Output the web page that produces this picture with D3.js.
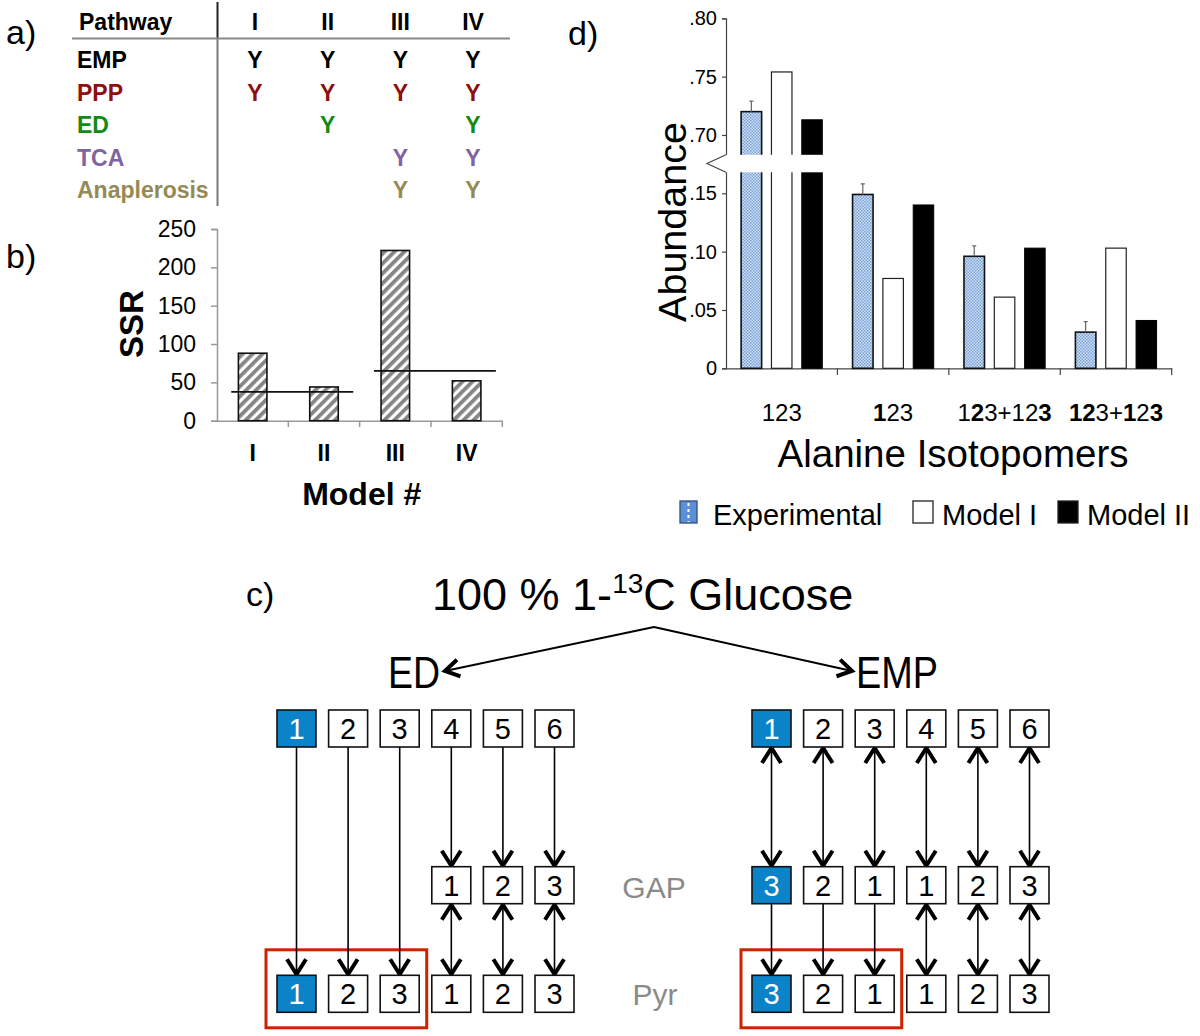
<!DOCTYPE html>
<html>
<head>
<meta charset="utf-8">
<script src="https://cdn.jsdelivr.net/npm/d3@7"></script>
<style>
  body { margin: 0; background: #fff; }
  svg { display: block; font-family: "Liberation Sans", Arial, sans-serif; }
</style>
</head>
<body>
<script>
// ---- a) which pathways each model contains
const pathways = ["EMP", "PPP", "ED", "TCA", "Anaplerosis"];
const models = ["I", "II", "III", "IV"];
const included = [
  [1, 1, 1, 1],
  [1, 1, 1, 1],
  [0, 1, 0, 1],
  [0, 0, 1, 1],
  [0, 0, 1, 1]
];

// ---- b) SSR per model
const ssr = [88, 44, 222, 52];
const ssrTicks = [0, 50, 100, 150, 200, 250];
const ssrLimits = [
  { from: "I", to: "II", value: 37.5 },
  { from: "III", to: "IV", value: 65 }
];

// ---- d) alanine isotopomers (pieces: [text, bold])
const isotopomers = [
  [["123", 0]],
  [["1", 1], ["23", 0]],
  [["1", 0], ["2", 1], ["3+12", 0], ["3", 1]],
  [["12", 1], ["3+", 0], ["1", 1], ["2", 0], ["3", 1]]
];
const seriesNames = ["Experimental", "Model I", "Model II"];
const experimental = [0.720, 0.149, 0.096, 0.031];
const experimentalErr = [0.009, 0.009, 0.009, 0.009];
const modelI = [0.754, 0.077, 0.061, 0.103];
const modelII = [0.713, 0.140, 0.103, 0.041];
const abundanceTicks = [0, 0.05, 0.10, 0.15, 0.70, 0.75, 0.80];
const axisBreak = [0.168, 0.683];

// ---- c) carbon mapping 1-13C glucose -> GAP -> pyruvate
const glucoseCarbons = ["1", "2", "3", "4", "5", "6"];
const tracer = "1";
const edGAP = [null, null, null, "1", "2", "3"];
const edPyr = ["1", "2", "3", "1", "2", "3"];
const empGAP = ["3", "2", "1", "1", "2", "3"];
const empPyr = ["3", "2", "1", "1", "2", "3"];
const edArrows = [
  { from: "top", to: "pyr", cols: [0, 1, 2], both: false },
  { from: "top", to: "gap", cols: [3, 4, 5], both: false },
  { from: "gap", to: "pyr", cols: [3, 4, 5], both: true }
];
const empArrows = [
  { from: "top", to: "gap", cols: [0, 1, 2, 3, 4, 5], both: true },
  { from: "gap", to: "pyr", cols: [0, 1, 2], both: false },
  { from: "gap", to: "pyr", cols: [3, 4, 5], both: true }
];

const pathwayColors = ["#000000", "#8e0f0f", "#138a13", "#8064a2", "#948a54"];

const svg = d3.select("body").append("svg")
  .attr("width", 1200).attr("height", 1036);

const defs = svg.append("defs");
const hatch = defs.append("pattern").attr("id", "hatch")
  .attr("patternUnits", "userSpaceOnUse").attr("width", 7).attr("height", 7)
  .attr("patternTransform", "rotate(45)");
hatch.append("rect").attr("width", 7).attr("height", 7).attr("fill", "#fff");
hatch.append("rect").attr("width", 3.8).attr("height", 7).attr("fill", "#858585");

const dots = defs.append("pattern").attr("id", "dots")
  .attr("patternUnits", "userSpaceOnUse").attr("width", 3).attr("height", 3);
dots.append("rect").attr("width", 3).attr("height", 3).attr("fill", "#d3e0f3");
dots.append("rect").attr("width", 1.5).attr("height", 1.5).attr("fill", "#7aa2da");
dots.append("rect").attr("x", 1.5).attr("y", 1.5).attr("width", 1.5).attr("height", 1.5).attr("fill", "#7aa2da");

// panel letters
svg.selectAll("text.panel")
  .data([["a)", 6, 44], ["b)", 6, 268], ["c)", 246, 606], ["d)", 568, 45]])
  .join("text").attr("class", "panel")
  .attr("x", d => d[1]).attr("y", d => d[2])
  .attr("font-size", 34).text(d => d[0]);

// ================= a) table
const ta = svg.append("g");
const colA = d3.scalePoint().domain(models).range([255, 473]);
const rowA = d3.scaleLinear().domain([0, pathways.length - 1]).range([68.3, 198.3]);

ta.append("line").attr("x1", 217.5).attr("x2", 217.5).attr("y1", 2).attr("y2", 38)
  .attr("stroke", "#222").attr("stroke-width", 2);
ta.append("line").attr("x1", 217.5).attr("x2", 217.5).attr("y1", 38).attr("y2", 206)
  .attr("stroke", "#777").attr("stroke-width", 2);
ta.append("line").attr("x1", 72).attr("x2", 510).attr("y1", 38.5).attr("y2", 38.5)
  .attr("stroke", "#888").attr("stroke-width", 2);

ta.append("text").attr("x", 79).attr("y", 30).attr("font-size", 23)
  .attr("font-weight", "bold").text("Pathway");
ta.selectAll("text.mh").data(models).join("text").attr("class", "mh")
  .attr("x", d => colA(d)).attr("y", 30).attr("text-anchor", "middle")
  .attr("font-size", 23).attr("font-weight", "bold").text(d => d);

ta.selectAll("text.pw").data(pathways).join("text").attr("class", "pw")
  .attr("x", 77).attr("y", (d, i) => rowA(i))
  .attr("font-size", 23).attr("font-weight", "bold")
  .attr("fill", (d, i) => pathwayColors[i]).text(d => d);

const yesCells = [];
included.forEach((row, i) => row.forEach((v, j) => { if (v) yesCells.push({ i, m: models[j] }); }));
ta.selectAll("text.yes").data(yesCells).join("text").attr("class", "yes")
  .attr("x", d => colA(d.m)).attr("y", d => rowA(d.i))
  .attr("text-anchor", "middle").attr("font-size", 23).attr("font-weight", "bold")
  .attr("fill", d => pathwayColors[d.i]).text("Y");

// ================= b) SSR bars
const gb = svg.append("g");
const xb = d3.scaleBand().domain(models).range([217, 502.3]);
const yb = d3.scaleLinear().domain([0, 250]).range([420.7, 229]);
const bwB = xb.bandwidth();

const yAxisB = gb.append("g").attr("transform", "translate(217,0)")
  .call(d3.axisLeft(yb).tickValues(ssrTicks).tickSize(6).tickPadding(15));
yAxisB.selectAll("path, line").attr("stroke", "#999").attr("stroke-width", 1.5);
yAxisB.selectAll("text").attr("font-size", 23).attr("font-family", "Liberation Sans, Arial").attr("fill", "#000");

const xAxisB = gb.append("g").attr("transform", "translate(0,420.7)")
  .call(d3.axisBottom(xb).tickSize(0).tickSizeOuter(0));
xAxisB.select("path").attr("stroke", "#999").attr("stroke-width", 1.5);
xAxisB.selectAll("text").attr("y", 40).attr("dy", null).attr("font-size", 23)
  .attr("font-weight", "bold").attr("font-family", "Liberation Sans, Arial").attr("fill", "#000");
gb.selectAll("line.bt").data(models).join("line").attr("class", "bt")
  .attr("x1", d => xb(d) + bwB).attr("x2", d => xb(d) + bwB)
  .attr("y1", 420.7).attr("y2", 427).attr("stroke", "#999").attr("stroke-width", 1.5);

gb.selectAll("rect.bar").data(ssr).join("rect").attr("class", "bar")
  .attr("x", (d, i) => xb(models[i]) + bwB * 0.3)
  .attr("width", bwB * 0.4)
  .attr("y", d => yb(d)).attr("height", d => yb(0) - yb(d))
  .attr("fill", "url(#hatch)").attr("stroke", "#111").attr("stroke-width", 1.6);

gb.selectAll("line.lim").data(ssrLimits).join("line").attr("class", "lim")
  .attr("x1", d => xb(d.from) + bwB * 0.2).attr("x2", d => xb(d.to) + bwB * 0.91)
  .attr("y1", d => yb(d.value)).attr("y2", d => yb(d.value))
  .attr("stroke", "#111").attr("stroke-width", 1.8);

gb.append("text").attr("transform", "translate(143,324) rotate(-90)")
  .attr("text-anchor", "middle").attr("font-size", 33).attr("font-weight", "bold").text("SSR");
gb.append("text").attr("x", 361.7).attr("y", 505).attr("text-anchor", "middle")
  .attr("font-size", 32).attr("font-weight", "bold").text("Model #");

// ================= d) isotopomer abundance
const gd = svg.append("g");
const fold = v => v >= axisBreak[1] ? v - 0.5 : v;
const xd = d3.scaleBand().domain(d3.range(isotopomers.length)).range([726, 1171.7]);
const bwD = xd.bandwidth();
const xs = d3.scaleBand().domain(seriesNames)
  .range([bwD / 2 - 45.5, bwD / 2 + 45.5]).paddingInner(0.324).paddingOuter(0.162);
const yd = d3.scaleLinear().domain([0, 0.30]).range([368.3, 18.3]);

const yAxisD = gd.append("g").attr("transform", "translate(726,0)")
  .call(d3.axisLeft(yd).tickValues(abundanceTicks.map(fold)).tickSize(4).tickPadding(5)
    .tickFormat((d, i) => abundanceTicks[i] === 0 ? "0" : d3.format(".2f")(abundanceTicks[i]).replace(/^0/, "")));
yAxisD.selectAll("path, line").attr("stroke", "#444").attr("stroke-width", 1.2);
yAxisD.selectAll("text").attr("font-size", 20).attr("font-family", "Liberation Sans, Arial").attr("fill", "#000");

const xAxisD = gd.append("g").attr("transform", "translate(0,368.3)")
  .call(d3.axisBottom(xd).tickSize(0).tickSizeOuter(0).tickFormat(""));
xAxisD.select("path").attr("stroke", "#444").attr("stroke-width", 1.2);
gd.selectAll("line.dt").data(xd.domain()).join("line").attr("class", "dt")
  .attr("x1", d => xd(d) + bwD).attr("x2", d => xd(d) + bwD)
  .attr("y1", 368.3).attr("y2", 375).attr("stroke", "#444").attr("stroke-width", 1.2);

const seriesData = [experimental, modelI, modelII];
const seriesStyle = [
  { fill: "url(#dots)", stroke: "#111", sw: 1.6 },
  { fill: "#fff", stroke: "#222", sw: 1.2 },
  { fill: "#000", stroke: "#000", sw: 1 }
];
const bars = [];
seriesData.forEach((vals, s) => vals.forEach((v, g) => bars.push({ s, g, v })));
gd.selectAll("rect.ab").data(bars).join("rect").attr("class", "ab")
  .attr("x", d => xd(d.g) + xs(seriesNames[d.s]))
  .attr("width", xs.bandwidth())
  .attr("y", d => yd(fold(d.v))).attr("height", d => yd(0) - yd(fold(d.v)))
  .attr("fill", d => seriesStyle[d.s].fill)
  .attr("stroke", d => seriesStyle[d.s].stroke)
  .attr("stroke-width", d => seriesStyle[d.s].sw);

// error bars on experimental
const errX = g => xd(g) + xs("Experimental") + xs.bandwidth() / 2;
gd.selectAll("path.err").data(experimental).join("path").attr("class", "err")
  .attr("d", (v, g) => {
    const x = errX(g), y0 = yd(fold(v)), y1 = yd(fold(v + experimentalErr[g]));
    return `M${x},${y0}V${y1}M${x - 2},${y1}H${x + 2}`;
  })
  .attr("fill", "none").attr("stroke", "#666").attr("stroke-width", 1.2);

// axis break
gd.append("rect").attr("x", 712).attr("width", 462)
  .attr("y", yd(fold(axisBreak[1]))).attr("height", yd(axisBreak[0]) - yd(fold(axisBreak[1])))
  .attr("fill", "#fff");
gd.append("path")
  .attr("d", `M726,${yd(fold(axisBreak[1]))}L707,${(yd(fold(axisBreak[1])) + yd(axisBreak[0])) / 2}L726,${yd(axisBreak[0])}`)
  .attr("fill", "none").attr("stroke", "#444").attr("stroke-width", 1.2);

// category labels with bold carbons
const catLabels = gd.selectAll("text.cat").data(isotopomers).join("text").attr("class", "cat")
  .attr("x", (d, i) => xd(i) + bwD / 2).attr("y", 421)
  .attr("text-anchor", "middle").attr("font-size", 24);
catLabels.selectAll("tspan").data(d => d).join("tspan")
  .attr("font-weight", p => p[1] ? "bold" : "normal").text(p => p[0]);

gd.append("text").attr("x", 953).attr("y", 467).attr("text-anchor", "middle")
  .attr("font-size", 38.5).text("Alanine Isotopomers");
gd.append("text").attr("transform", "translate(686,222) rotate(-90)")
  .attr("text-anchor", "middle").attr("font-size", 39.5).text("Abundance");

// legend
const legendX = [680, 913, 1058];
const leg = gd.selectAll("g.leg").data(seriesNames).join("g").attr("class", "leg")
  .attr("transform", (d, i) => `translate(${legendX[i]},501)`);
leg.append("rect").attr("width", (d, i) => i === 0 ? 17 : 20).attr("height", 22)
  .attr("fill", (d, i) => i === 0 ? "#5c8fd5" : seriesStyle[i].fill)
  .attr("stroke", (d, i) => i === 0 ? "#2c4f80" : "#222").attr("stroke-width", 1.3);
leg.filter((d, i) => i === 0).append("line")
  .attr("x1", 8.5).attr("x2", 8.5).attr("y1", 2).attr("y2", 21)
  .attr("stroke", "#fff").attr("stroke-width", 2).attr("stroke-dasharray", "3,3");
leg.append("text").attr("x", (d, i) => i === 0 ? 33 : 29).attr("y", 23.5)
  .attr("font-size", 29).text(d => d);

// ================= c) carbon transitions
const gc = svg.append("g");
const title = gc.append("text").attr("x", 432).attr("y", 610).attr("font-size", 45);
title.append("tspan").text("100 % 1-");
title.append("tspan").attr("font-size", 28).attr("dy", -17).text("13");
title.append("tspan").attr("dy", 17).text("C Glucose");

gc.append("text").attr("x", 440).attr("y", 688).attr("text-anchor", "end")
  .attr("font-size", 45).attr("textLength", 52).attr("lengthAdjust", "spacingAndGlyphs").text("ED");
gc.append("text").attr("x", 856).attr("y", 688)
  .attr("font-size", 45).attr("textLength", 82).attr("lengthAdjust", "spacingAndGlyphs").text("EMP");

function chevron(x, y, ang, half, depth) {
  // tip at (x,y), pointing along angle ang
  const c = Math.cos(ang), s = Math.sin(ang);
  const bx = x - c * depth, by = y - s * depth;
  return `M${bx - s * half},${by + c * half}L${x},${y}L${bx + s * half},${by - c * half}`;
}

const apex = [654, 627];
const splitTips = [[445, 671], [852, 671]];
splitTips.forEach(t => {
  gc.append("line").attr("x1", apex[0]).attr("y1", apex[1]).attr("x2", t[0]).attr("y2", t[1])
    .attr("stroke", "#000").attr("stroke-width", 2);
  const ang = Math.atan2(t[1] - apex[1], t[0] - apex[0]);
  gc.append("path").attr("d", chevron(t[0], t[1], ang, 8.5, 14))
    .attr("fill", "none").attr("stroke", "#000").attr("stroke-width", 4);
});

const boxW = 39, boxH = 37;
const rowY = { top: 710, gap: 866.7, pyr: 975.3 };

function drawPathway(x0, gapRow, pyrRow, arrows) {
  const g = gc.append("g");
  const x = d3.scaleLinear().domain([0, 5]).range([x0, x0 + 5 * 51.6]);
  const rows = { top: glucoseCarbons, gap: gapRow, pyr: pyrRow };

  // red box around the pyruvate from the first three carbons
  g.append("rect").attr("x", x(0) - 11).attr("y", rowY.pyr - 25.5)
    .attr("width", x(2) + boxW + 7.5 - (x(0) - 11)).attr("height", boxH + 41)
    .attr("fill", "none").attr("stroke", "#cc2200").attr("stroke-width", 3);

  const links = [];
  arrows.forEach(a => a.cols.forEach(c => links.push({ ...a, c })));
  g.selectAll("line.lk").data(links).join("line").attr("class", "lk")
    .attr("x1", d => x(d.c) + boxW / 2).attr("x2", d => x(d.c) + boxW / 2)
    .attr("y1", d => rowY[d.from] + boxH).attr("y2", d => rowY[d.to])
    .attr("stroke", "#000").attr("stroke-width", 1.6);
  g.selectAll("path.hd").data(links).join("path").attr("class", "hd")
    .attr("d", d => {
      const cx = x(d.c) + boxW / 2;
      let p = chevron(cx, rowY[d.to] - 1, Math.PI / 2, 9.5, 15);
      if (d.both) p += chevron(cx, rowY[d.from] + boxH + 1, -Math.PI / 2, 9.5, 15);
      return p;
    })
    .attr("fill", "none").attr("stroke", "#000").attr("stroke-width", 4);

  const cells = [];
  Object.keys(rows).forEach(r => rows[r].forEach((v, i) => {
    if (v != null) cells.push({ r, i, v, hot: glucoseCarbons[i] === tracer });
  }));
  const cell = g.selectAll("g.cell").data(cells).join("g").attr("class", "cell")
    .attr("transform", d => `translate(${x(d.i)},${rowY[d.r]})`);
  cell.append("rect").attr("width", boxW).attr("height", boxH)
    .attr("fill", d => d.hot ? "#0b83c9" : "#fff").attr("stroke", "#111").attr("stroke-width", 1.6);
  cell.append("text").attr("x", boxW / 2).attr("y", boxH / 2 + 10.5).attr("text-anchor", "middle")
    .attr("font-size", 29).attr("fill", d => d.hot ? "#fff" : "#000").text(d => d.v);
}

drawPathway(277, edGAP, edPyr, edArrows);
drawPathway(752, empGAP, empPyr, empArrows);

gc.append("text").attr("x", 654).attr("y", 898).attr("text-anchor", "middle")
  .attr("font-size", 30).attr("fill", "#8a8a8a").text("GAP");
gc.append("text").attr("x", 655).attr("y", 1005).attr("text-anchor", "middle")
  .attr("font-size", 30).attr("fill", "#8a8a8a").text("Pyr");
</script>
</body>
</html>
